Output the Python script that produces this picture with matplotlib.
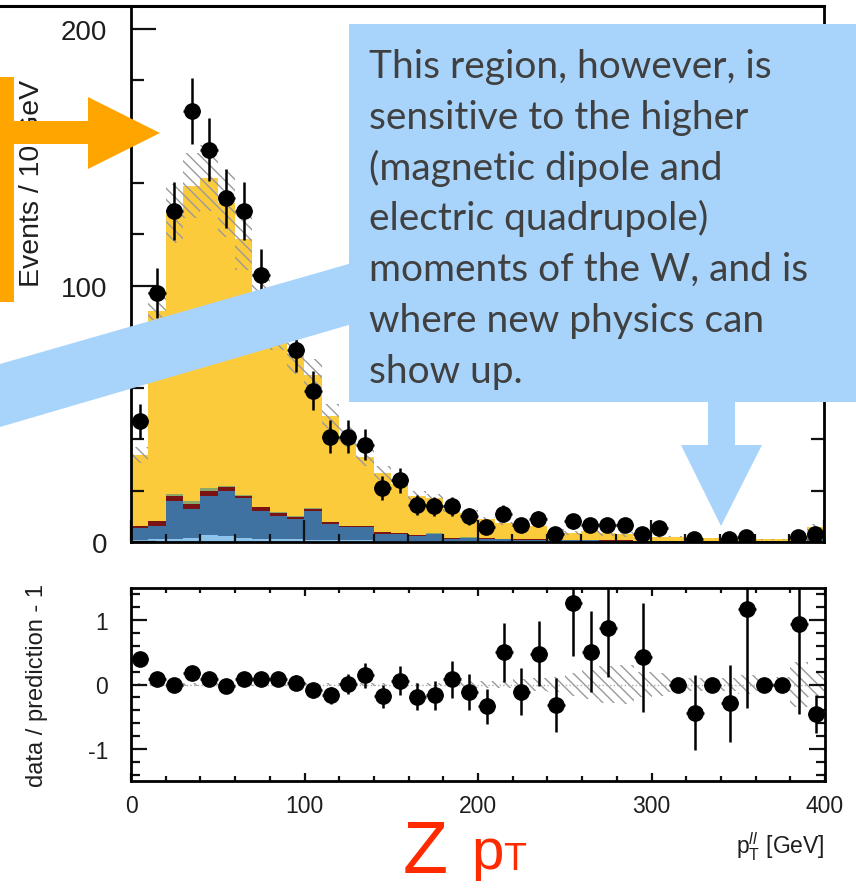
"""
Z pT distribution with data/prediction ratio, plus slide annotations
"""
import numpy as np
import matplotlib
matplotlib.use("Agg")
import matplotlib.pyplot as plt
from matplotlib.patches import Polygon, Rectangle
from matplotlib.lines import Line2D
from matplotlib.ticker import MultipleLocator

plt.rcParams["font.family"] = ["Liberation Sans", "DejaVu Sans"]
plt.rcParams["mathtext.fontset"] = "custom"
plt.rcParams["mathtext.rm"] = "Liberation Sans"
plt.rcParams["mathtext.it"] = "Liberation Sans:italic"
plt.rcParams["hatch.linewidth"] = 1.0
plt.rcParams["axes.unicode_minus"] = False

W, H = 856, 895
nan = np.nan

# 10 GeV bins from 0 to 400 GeV
bin_lo = np.arange(0, 400, 10)

data = [47, 97, 129, 168, 153, 134, 129, 104, 90, 75, 59, 41, 41, 38, 21, 24, 14.5, 14, 14, 10,
        6, 11, 6.5, 9, 3, 8, 6.5, 6.5, 6.5, 3, 5.5, nan, 1, nan, 1, 2, nan, nan, 2, 3.2]
data_err = [6.9, 9.8, 11.4, 13, 12.4, 11.6, 11.4, 10.2, 9.5, 8.7, 7.7, 6.4, 6.4, 6.2, 4.6, 4.9, 3.8, 3.7, 3.7, 3.2,
            2.4, 3.3, 2.5, 3, 1.7, 2.8, 2.5, 2.5, 2.5, 1.7, 2.3, 0, 1, 0, 1, 1.4, 0, 0, 1.4, 1.8]

# stacked predictions, bottom to top
light_blue = [0.8, 1.2, 1.2, 1.5, 2.8, 2.5, 1.5, 1.2, 1.0, 1.0, 0.8, 0.8, 0.6, 0.6, 0.5, 0.5, 0.4, 0.4, 0.3, 0.3,
              0.3, 0.2, 0.2, 0.2, 0.2, 0.1, 0.1, 0.1, 0.1, 0.1, 0.1, 0.1, 0.1, 0.1, 0.1, 0.05, 0.05, 0.05, 0.05, 0.2]
steel_blue = [4.7, 5.1, 14.8, 11.4, 15.2, 17.3, 15.7, 10.9, 9.2, 8.0, 11.2, 6.2, 5.2, 5.2, 2.6, 2.5, 1.9, 2.6, 1.0, 1.2,
              0.9, 0.8, 0.7, 0.7, 0.6, 0.5, 0.5, 0.4, 0.4, 0.3, 0.3, 0.3, 0.2, 0.2, 0.2, 0.15, 0.15, 0.15, 0.15, 0.8]
dark_red = [0.7, 1.7, 2.0, 1.9, 2.0, 1.7, 0.8, 1.4, 1.3, 0.8, 1.0, 0.7, 0.3, 0.3, 0.7, 0.6, 0.3, 0.3, 0.2, 0.2,
            0.2, 0.2, 0.1, 0.1, 0.1, 0.1, 0.1, 0.1, 0.1, 0.1, 0, 0, 0, 0, 0, 0, 0, 0, 0, 0.1]
green = [0.1, 0.2, 0.7, 1.2, 1.0, 0.5, 0.3, 0.2, 0.2, 0.2, 0.2, 0.1, 0.1, 0.1, 0.1, 0.1, 0.1, 0.1, 0.1, 0.1,
         0.1, 0, 0, 0, 0, 0, 0, 0, 0, 0, 0, 0, 0, 0, 0, 0, 0, 0, 0, 0]
yellow = [27.7, 81.8, 109.3, 123, 121, 110, 99.7, 81.3, 71.3, 63, 51.8, 41.2, 34.8, 26.8, 23.1, 18.9, 15.3, 13.6, 11.4, 9.4,
          7.5, 6.1, 6.3, 5.1, 3.5, 2.8, 3.6, 2.9, 2.4, 1.6, 1.6, 1.6, 1.5, 1.2, 1.1, 0.7, 0.8, 0.8, 0.8, 4.7]

# relative uncertainty on total prediction
main_unc = [0.09, 0.09, 0.09, 0.09, 0.09, 0.1, 0.1, 0.1, 0.1, 0.1, 0.1, 0.1, 0.1, 0.1, 0.1, 0.1, 0.1, 0.1, 0.1, 0.1,
            0.09, 0.09, 0.1, 0.1, 0.12, 0.18, 0.22, 0.28, 0.3, 0.2, 0.18, 0.12, 0.1, 0.08, 0.1, 0.15, 0.1, 0.12, 0.35, 0.2]
ratio_unc = [0.02, 0.02, 0.02, 0.02, 0.02, 0.02, 0.02, 0.02, 0.02, 0.02, 0.02, 0.02, 0.02, 0.02, 0.02, 0.02, 0.02, 0.03, 0.04, 0.05,
             0.05, 0.06, 0.08, 0.1, 0.12, 0.18, 0.22, 0.28, 0.3, 0.2, 0.18, 0.12, 0.1, 0.08, 0.1, 0.15, 0.1, 0.12, 0.35, 0.2]

ratio = [0.40, 0.09, 0.0, 0.18, 0.09, -0.03, 0.09, 0.09, 0.09, 0.03, -0.09, -0.17, 0.01, 0.14, -0.18, 0.06, -0.19, -0.17, 0.08, -0.11,
         -0.34, 0.50, -0.11, 0.48, -0.32, 1.26, 0.51, 0.88, nan, 0.42, nan, 0.0, -0.44, 0.0, -0.29, 1.18, 0.0, 0.0, 0.94, -0.46]
ratio_err = [0.08, 0.11, 0.09, 0.09, 0.09, 0.09, 0.1, 0.11, 0.11, 0.12, 0.12, 0.13, 0.16, 0.19, 0.18, 0.22, 0.21, 0.22, 0.29, 0.28,
             0.27, 0.46, 0.37, 0.5, 0.42, 0.82, 0.63, 0.77, 0, 0.84, 0, 0, 0.58, 0, 0.6, 1.55, 0, 0, 1.4, 0.3]

callout_lines = [
    "This region, however, is",
    "sensitive to the higher",
    "(magnetic dipole and",
    "electric quadrupole)",
    "moments of the W, and is",
    "where new physics can",
    "show up.",
]

COL_YELLOW = "#FCCB3C"
COL_STEEL = "#3F72A0"
COL_LBLUE = "#8EC3EC"
COL_RED = "#7A1414"
COL_GREEN = "#8AA86A"
COL_CALLOUT = "#A8D4FB"
COL_ORANGE = "#FFA500"
COL_ZPT = "#FF2A00"
TXT = "#1e1e1e"


def px(x, y):
	"""pixel (from top-left) -> figure fraction"""
	return (x / W, 1 - y / H)


fig = plt.figure(figsize=(W / 100, H / 100), dpi=100)
ax = fig.add_axes([131 / W, 1 - 543 / H, 693 / W, 536 / H])
rax = fig.add_axes([131 / W, 1 - 782 / H, 694 / W, 193 / H])

centers = bin_lo + 5
total = np.zeros(len(bin_lo))
for vals, col in [(light_blue, COL_LBLUE), (steel_blue, COL_STEEL), (dark_red, COL_RED),
                  (green, COL_GREEN), (yellow, COL_YELLOW)]:
	vals = np.asarray(vals)
	ax.bar(bin_lo, vals, width=10, bottom=total, align="edge", color=col, lw=0, zorder=1)
	total = total + vals

unc = np.asarray(main_unc) * total
ax.bar(bin_lo, 2 * unc, width=10, bottom=total - unc, align="edge", facecolor="none",
       edgecolor="#9a9a9a", lw=0, hatch="\\\\\\", zorder=2)
ax.errorbar(centers, data, yerr=data_err, xerr=5, fmt="o", color="black", ms=11,
            elinewidth=1.8, capsize=0, zorder=3)

ax.set_xlim(0, 400)
ax.set_ylim(0, 209)
ax.yaxis.set_major_locator(MultipleLocator(100))
ax.yaxis.set_minor_locator(MultipleLocator(20))
ax.xaxis.set_major_locator(MultipleLocator(100))
ax.xaxis.set_minor_locator(MultipleLocator(20))
ax.tick_params(which="both", direction="in", width=1.6, color="#111111", labelcolor=TXT)
ax.tick_params(axis="y", which="major", length=18, pad=17, labelsize=20, right=True)
ax.tick_params(axis="y", which="minor", length=9.5, right=True)
ax.tick_params(axis="x", which="major", length=16, labelbottom=False)
ax.tick_params(axis="x", which="minor", length=6)
ax.spines["top"].set_visible(False)
for s in ax.spines.values():
	s.set_linewidth(2)
ax.set_ylabel("Events / 10 GeV", fontsize=20.5, color=TXT, ha="center", va="center")
ax.yaxis.set_label_coords((32 - 131) / 693, (543 - 183) / 536)

# ratio panel
runc = np.asarray(ratio_unc)
rax.bar(bin_lo, 2 * runc, width=10, bottom=-runc, align="edge", facecolor="none",
        edgecolor="#9a9a9a", lw=0, hatch="\\\\\\", zorder=1)
rax.axhline(0, color="#aaaaaa", lw=1, ls=":", zorder=1)
rax.errorbar(centers, ratio, yerr=ratio_err, xerr=5, fmt="o", color="black", ms=11,
             elinewidth=1.8, capsize=0, zorder=3)
rax.set_xlim(0, 400)
rax.set_ylim(-1.5, 1.5)
rax.yaxis.set_major_locator(MultipleLocator(1))
rax.yaxis.set_minor_locator(MultipleLocator(0.2))
rax.xaxis.set_major_locator(MultipleLocator(100))
rax.xaxis.set_minor_locator(MultipleLocator(20))
rax.tick_params(which="both", direction="in", width=1.6, color="#111111", labelcolor=TXT,
                top=True, right=True, labelsize=16.5)
rax.tick_params(axis="y", which="major", length=11.5, pad=16.5)
rax.tick_params(axis="y", which="minor", length=6.5)
rax.tick_params(axis="x", which="major", length=6, pad=9.4)
rax.tick_params(axis="x", which="minor", length=3.5)
for s in rax.spines.values():
	s.set_linewidth(2)
rax.set_ylabel("data / prediction - 1", fontsize=17, color=TXT, ha="center", va="center")
rax.yaxis.set_label_coords((37 - 131) / 694, 0.5)
rax.set_xlabel(r"$\mathregular{p}_{\mathregular{T}}^{ll}$ [GeV]", fontsize=16.5, color=TXT,
               loc="right", labelpad=9)

# image border line along the top
fig.add_artist(Line2D([0, 824 / W], [1 - 7 / H] * 2, color="black", lw=2.2))

# orange bracket arrow
orange_pts = [(0, 78), (14, 78), (14, 122), (88, 122), (88, 98), (160, 134), (88, 170),
              (88, 145), (14, 145), (14, 303), (0, 303)]
fig.add_artist(Polygon([px(*p) for p in orange_pts], closed=True, transform=fig.transFigure,
                       facecolor=COL_ORANGE, edgecolor="none", zorder=5))

# callout box with tail and arrow
tail_pts = [(0, 365), (352, 264), (352, 325), (0, 428)]
fig.add_artist(Polygon([px(*p) for p in tail_pts], closed=True, transform=fig.transFigure,
                       facecolor=COL_CALLOUT, edgecolor="none", zorder=5))
fig.add_artist(Rectangle(px(349, 403), (W - 349) / W, (403 - 25) / H, transform=fig.transFigure,
                         facecolor=COL_CALLOUT, edgecolor="none", zorder=5))
down_pts = [(708, 400), (735, 400), (735, 446), (762, 446), (721, 527), (681, 446), (708, 446)]
fig.add_artist(Polygon([px(*p) for p in down_pts], closed=True, transform=fig.transFigure,
                       facecolor=COL_CALLOUT, edgecolor="none", zorder=5))
for i, line in enumerate(callout_lines):
	fig.text(*px(369, 78 + 50.8 * i), line, fontsize=28, family=["Lato", "DejaVu Sans"],
	         color="#404040", ha="left", va="baseline", zorder=6)

# big red label: "Z p" with a small T
fig.text(*px(403, 873), "Z", fontsize=53, color=COL_ZPT, ha="left", va="baseline")
fig.text(*px(471, 869), "p", fontsize=42, color=COL_ZPT, ha="left", va="baseline")
fig.text(*px(503, 870), "T", fontsize=27, color=COL_ZPT, ha="left", va="baseline")

fig.savefig("out.png", dpi=100)
